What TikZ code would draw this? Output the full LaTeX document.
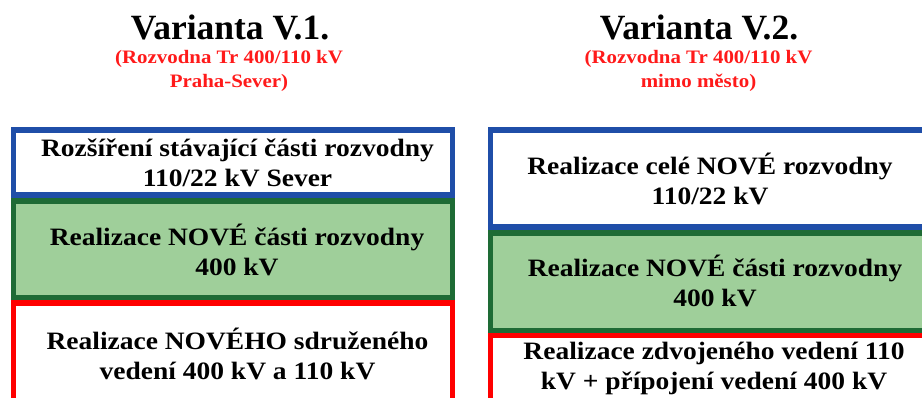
\documentclass[tikz,border=0pt]{standalone}
\usepackage{fontspec}
\setmainfont{Liberation Serif}
\newfontfamily\bodyfont[FakeStretch=1.1]{Liberation Serif}
\definecolor{bxblue}{HTML}{1F4EA8}
\definecolor{bxgreen}{HTML}{1E6B35}
\definecolor{bxfill}{HTML}{9FCF9A}
\definecolor{subred}{HTML}{FF1A1A}
\definecolor{bxred}{HTML}{FF0000}
\tikzset{
  box/.style={draw, line width=5.5pt, inner sep=0pt, rectangle},
  bluebox/.style={box, draw=bxblue, fill=white},
  greenbox/.style={box, draw=bxgreen, fill=bxfill},
  redbox/.style={box, draw=bxred, fill=white},
  boxtext/.style={align=center, font=\bodyfont\bfseries\fontsize{25}{30}\selectfont},
  titletext/.style={anchor=base, font=\bfseries\fontsize{35.5}{40}\selectfont},
  subtext/.style={align=center, text=subred, font=\bodyfont\bfseries\fontsize{19}{24}\selectfont}
}
\begin{document}
\begin{tikzpicture}[x=1pt,y=-1pt]
\useasboundingbox[fill=white] (0,0) rectangle (922,398);
% left column
\node[bluebox, minimum width=439.2pt, minimum height=65pt] (lb) at (233.1,162.5) {};
\node[greenbox, minimum width=439.2pt, minimum height=96.5pt] (lg) at (233.1,249.25) {};
\node[redbox, minimum width=439.2pt, minimum height=102pt] (lr) at (233.1,354) {};
% right column
\node[bluebox, minimum width=447pt, minimum height=97pt] (rb) at (714,178.5) {};
\node[greenbox, minimum width=447pt, minimum height=97.5pt] (rg) at (714,281.75) {};
\node[redbox, minimum width=447pt, minimum height=66.5pt] (rr) at (714,368.75) {};
% titles
\node[titletext] (t1) at (230,40) {Varianta V.1.};
\node[titletext] (t2) at (699,40) {Varianta V.2.};
\node[subtext] (s1) at (229,71) {(Rozvodna Tr 400/110 kV\\Praha-Sever)};
\node[subtext] (s2) at (698.5,71) {(Rozvodna Tr 400/110 kV\\mimo město)};
% box texts
\node[boxtext] (lbt) at (237.5,162.5) {Rozšíření stávající části rozvodny\\110/22 kV Sever};
\node[boxtext] (lgt) at (237,250) {Realizace NOVÉ části rozvodny\\400 kV};
\node[boxtext] (lrt) at (237.5,354) {Realizace NOVÉHO sdruženého\\vedení 400 kV a 110 kV};
\node[boxtext] (rbt) at (710,179) {Realizace celé NOVÉ rozvodny\\110/22 kV};
\node[boxtext] (rgt) at (715,281) {Realizace NOVÉ části rozvodny\\400 kV};
\node[boxtext] (rrt) at (714,368) {Realizace zdvojeného vedení 110\\kV + přípojení vedení 400 kV};
\end{tikzpicture}
\end{document}
